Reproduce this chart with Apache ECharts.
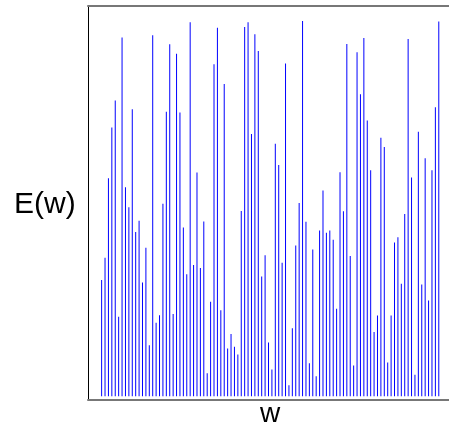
<!DOCTYPE html>
<html>
<head>
<meta charset="utf-8">
<script src="https://cdn.jsdelivr.net/npm/echarts@6/dist/echarts.min.js"></script>
<style>
  html, body { margin: 0; padding: 0; background: #fff; }
  #main { width: 449px; height: 429px; }
</style>
</head>
<body>
<div id="main"></div>
<script>
// 100 stems, indices 1..100, heights (max ~100)
var idx = [];
for (var k = 1; k <= 100; k++) idx.push(k);
var energy = [
  31.0, 36.9, 58.1, 71.6, 78.8, 21.2, 95.6, 55.7, 50.4, 76.5,
  43.8, 46.8, 30.3, 39.6, 13.6, 96.2, 19.6, 21.6, 51.3, 75.8,
  93.8, 21.9, 91.3, 75.6, 45.0, 32.5, 99.7, 35.0, 59.6, 34.2,
  46.6, 6.1, 25.2, 88.5, 98.2, 22.9, 83.2, 12.7, 16.6, 13.2,
  11.1, 49.4, 98.4, 99.7, 69.9, 96.5, 92.0, 31.9, 37.6, 14.3,
  7.1, 67.3, 61.6, 35.6, 88.7, 2.9, 18.1, 40.2, 51.5, 100.0,
  46.5, 8.8, 39.1, 5.3, 44.2, 54.8, 43.6, 44.2, 41.7, 23.3,
  59.7, 49.3, 93.9, 37.4, 8.2, 91.7, 80.5, 95.5, 73.5, 60.2,
  17.1, 21.5, 68.9, 66.4, 9.0, 21.5, 41.0, 42.4, 30.0, 48.6,
  95.2, 58.3, 5.7, 70.5, 29.8, 63.4, 25.5, 60.2, 77.0, 99.9
];
var yLabel = 'E(w)';
var xLabel = 'w';

var chart = echarts.init(document.getElementById('main'));

var pts = [];
for (var i = 0; i < idx.length; i++) {
  pts.push([idx[i], energy[i]]);
}

var option = {
  backgroundColor: '#fff',
  animation: false,
  grid: { left: 88, right: -3, top: 6, bottom: 29 },
  xAxis: [{
    type: 'value',
    min: -3, max: 103,
    axisLine: { show: true, onZero: false, lineStyle: { color: '#777', width: 2 } },
    axisTick: { show: false },
    axisLabel: { show: false },
    splitLine: { show: false }
  }, {
    type: 'value',
    position: 'top',
    min: -3, max: 103,
    axisLine: { show: true, onZero: false, lineStyle: { color: '#777', width: 2 } },
    axisTick: { show: false },
    axisLabel: { show: false },
    splitLine: { show: false }
  }],
  yAxis: {
    type: 'value',
    min: -1, max: 104,
    axisLine: { show: true, onZero: false, lineStyle: { color: '#000', width: 1 } },
    axisTick: { show: false },
    axisLabel: { show: false },
    splitLine: { show: false }
  },
  graphic: [
    {
      type: 'text', left: 14, top: 190,
      style: { text: yLabel, fill: '#000', font: '30px "Liberation Sans", Arial, sans-serif' }
    },
    {
      type: 'text', x: 270, y: 414,
      style: {
        text: xLabel, fill: '#000', align: 'center', verticalAlign: 'middle',
        font: '28px "Liberation Sans", Arial, sans-serif'
      }
    }
  ],
  series: [{
    type: 'bar',
    xAxisIndex: 0,
    barWidth: 1,
    itemStyle: { color: '#0000ff' },
    data: pts
  }]
};
chart.setOption(option);
</script>
</body>
</html>
